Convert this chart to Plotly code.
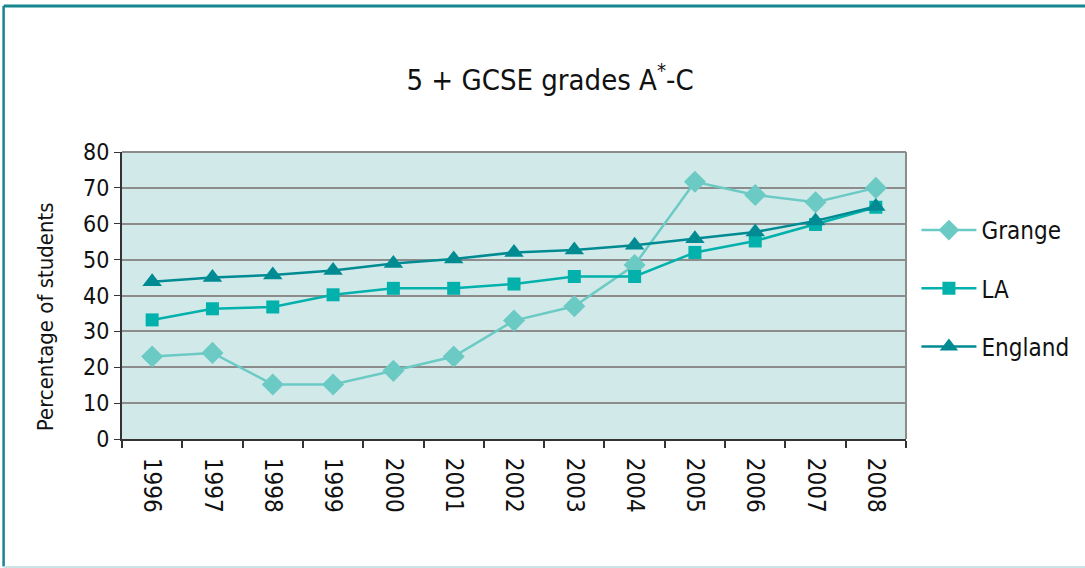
import plotly.graph_objects as go

years = ["1996", "1997", "1998", "1999", "2000", "2001", "2002", "2003", "2004", "2005", "2006", "2007", "2008"]
grange = [23, 24, 15.2, 15.2, 19, 23, 33, 37, 48.5, 71.7, 68, 66, 70]
la = [33.2, 36.3, 36.8, 40.2, 42, 42, 43.2, 45.3, 45.3, 52, 55.2, 59.8, 64.6]
england = [43.8, 45, 45.7, 47, 48.9, 50.2, 52, 52.7, 54, 55.8, 57.7, 60.8, 64.8]

FONT = "Liberation Sans Narrow, DejaVu Sans Condensed, Lato, sans-serif"

fig = go.Figure()
fig.add_trace(go.Scatter(x=years, y=grange, name="Grange", mode="lines+markers",
                         line=dict(color="#6ccac5", width=2.5),
                         marker=dict(symbol="diamond", size=17, color="#6ccac5"),
                         legendgroup="a"))
fig.add_trace(go.Scatter(x=years, y=la, name="LA", mode="lines+markers",
                         line=dict(color="#02b1ab", width=2.5),
                         marker=dict(symbol="square", size=13, color="#02b1ab"),
                         legendgroup="b"))
fig.add_trace(go.Scatter(x=years, y=england, name="England", mode="lines+markers",
                         line=dict(color="#008b93", width=2.5),
                         marker=dict(symbol="triangle-up", size=17, color="#008b93"),
                         legendgroup="c"))

fig.update_layout(
    width=1085, height=568,
    margin=dict(l=122, r=178, t=152, b=129),
    paper_bgcolor="white",
    plot_bgcolor="#d1eae9",
    font=dict(family=FONT, color="#111111"),
    title=dict(text="5 + GCSE grades A<sup>*</sup>-C", x=0.507, xref="container", xanchor="center",
               y=0.86, yanchor="middle",
               font=dict(size=29, family=FONT, color="#111111")),
    showlegend=True,
    legend=dict(x=1.012, y=0.805, xanchor="left", yanchor="top", bgcolor="rgba(0,0,0,0)",
                font=dict(size=24, family=FONT), tracegroupgap=24, itemwidth=55),
    xaxis=dict(type="category", range=[-0.5, 12.5], showgrid=False, showline=True,
               linecolor="#333333", linewidth=2,
               ticks="outside", ticklen=7, tickcolor="#333333", tickwidth=1.5, tickson="boundaries",
               tickangle=90, tickfont=dict(size=24, family=FONT, color="#111111"),
               ticklabelstandoff=12),
    yaxis=dict(range=[0, 80], dtick=10, showgrid=True, gridcolor="#8c8c8c", gridwidth=1.5,
               showline=True, linecolor="#333333", linewidth=2, ticks="outside", ticklen=6,
               tickcolor="#333333", tickfont=dict(size=23, family=FONT, color="#111111"),
               zeroline=False),
)

# y-axis title as annotation (positioned like the reference)
fig.add_annotation(text="Percentage of students", xref="paper", yref="paper",
                   x=-0.098, y=0.425, xanchor="center", yanchor="middle", textangle=-90,
                   showarrow=False, font=dict(size=22, family=FONT, color="#111111"))

# plot area right/top border
fig.add_shape(type="line", xref="paper", yref="paper", x0=1, x1=1, y0=0, y1=1,
              line=dict(color="#8c8c8c", width=2))
fig.add_shape(type="line", xref="paper", yref="paper", x0=0, x1=1, y0=1, y1=1,
              line=dict(color="#8c8c8c", width=2))

# outer chart frame
fig.add_shape(type="line", xref="paper", yref="paper", x0=-0.151, x1=1.25, y0=1.509, y1=1.509,
              line=dict(color="#17878f", width=3))
fig.add_shape(type="line", xref="paper", yref="paper", x0=-0.151, x1=-0.151, y0=1.509, y1=-0.444,
              line=dict(color="#17878f", width=2.5))
fig.add_shape(type="line", xref="paper", yref="paper", x0=-0.151, x1=1.25, y0=-0.446, y1=-0.446,
              line=dict(color="#c9e3e6", width=2))

fig.write_html("out.html", config={"displayModeBar": False},
               post_script="document.body.style.margin='0';document.body.style.overflow='hidden';")
